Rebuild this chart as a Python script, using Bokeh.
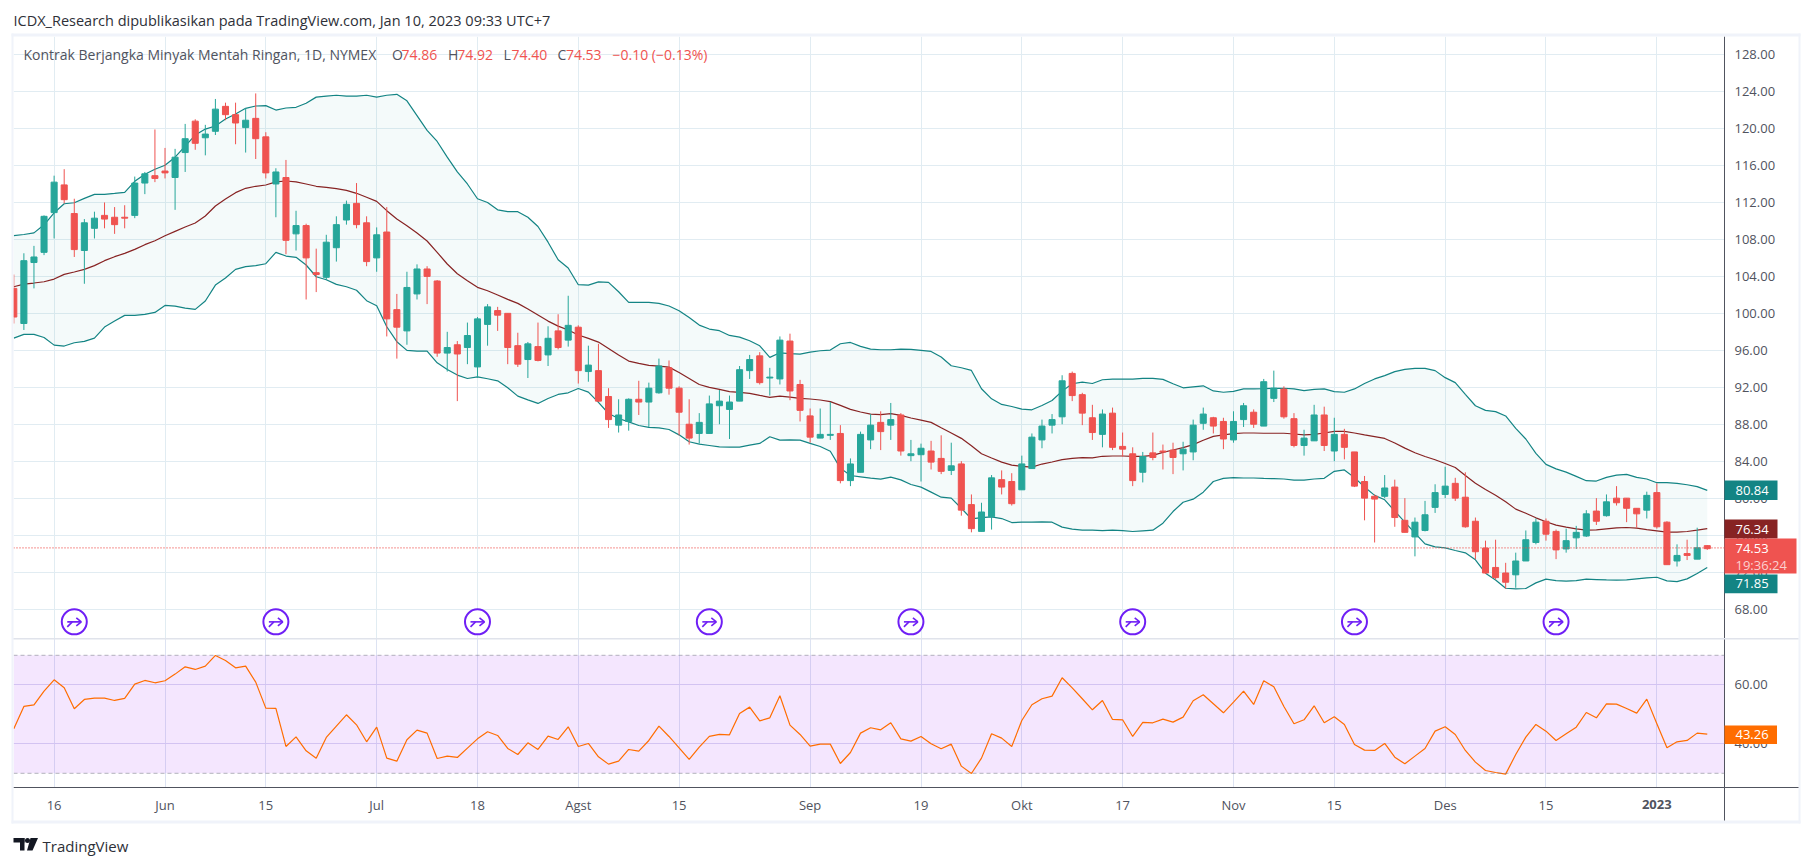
from bokeh.plotting import figure
from bokeh.layouts import column
from bokeh.core.properties import value
from bokeh.models import BoxAnnotation, ColumnDataSource, FixedTicker, NumeralTickFormatter, Range1d, Span
from bokeh.embed import file_html
from bokeh.resources import INLINE

opens = [102.7,98.9,105.5,106.6,110.9,113.9,110.8,106.8,109.2,110.6,
110.4,110.4,110.6,114.1,114.9,115.4,114.7,117.4,120.8,119.0,
119.7,122.4,121.5,120.1,121.1,119.1,114.0,114.7,108.6,109.5,
104.4,103.9,107.1,110.1,111.9,109.8,106.0,108.8,100.4,98.1,
102.1,104.8,103.5,95.7,96.6,96.3,94.2,98.8,100.3,100.0,
96.5,95.0,96.4,95.5,98.1,97.1,98.5,93.7,93.8,91.0,
87.9,88.3,90.7,90.4,91.4,94.1,91.9,88.0,87.0,87.0,
90.0,89.6,90.5,93.8,95.4,93.0,92.9,97.0,92.3,88.9,
86.5,86.8,87.0,81.9,82.8,86.3,88.2,87.9,89.0,84.6,
84.7,85.1,84.3,83.0,83.7,79.3,76.4,78.0,82.0,81.8,
80.9,83.2,86.3,87.9,88.8,93.5,91.2,88.7,86.9,89.2,
85.6,84.8,82.8,84.9,85.1,85.2,84.8,85.0,88.1,88.7,
88.3,86.3,88.5,89.3,87.8,90.8,91.8,88.6,85.7,86.2,
89.0,85.1,86.9,85.0,81.8,80.2,80.2,81.2,77.6,75.8,
76.5,79.0,80.4,81.6,80.1,77.5,74.6,72.5,71.9,71.7,
73.2,75.2,77.5,76.4,74.5,75.7,75.9,78.6,78.1,80.0,
80.0,78.9,78.7,80.6,77.4,73.2,74.0,73.4,74.86]
highs = [104.2,106.5,107.3,110.6,114.9,115.6,112.4,110.2,111.0,112.0,
111.5,111.7,114.8,115.3,119.9,117.9,117.8,120.5,121.0,120.4,
123.2,122.8,122.8,122.2,123.8,119.6,115.7,116.6,111.1,109.7,
107.0,108.5,110.5,112.2,114.1,110.5,109.3,111.5,102.1,104.5,
105.3,105.1,103.6,98.0,97.0,99.0,99.6,101.0,100.7,100.0,
97.9,96.9,99.0,98.6,99.9,101.9,98.7,96.5,96.7,91.9,
90.7,90.8,92.7,92.5,95.1,94.9,92.1,90.7,89.2,91.1,
91.7,91.1,94.3,95.5,95.8,94.1,97.5,97.8,92.8,89.7,
89.7,90.4,87.9,84.3,87.2,89.1,89.4,90.3,89.2,86.3,
85.9,86.2,86.8,86.0,84.0,80.4,79.5,82.5,83.0,82.7,
84.6,87.0,88.5,89.1,93.3,93.7,91.4,90.1,89.6,89.8,
87.1,85.5,85.0,87.1,85.8,86.0,86.1,88.5,89.8,88.8,
88.7,89.4,90.3,89.6,92.9,93.8,92.1,89.2,87.4,90.1,
89.9,88.7,87.5,85.0,82.4,80.4,82.5,82.0,80.0,77.9,
79.7,81.5,83.4,82.2,82.8,77.9,75.4,75.5,73.0,74.1,
76.5,77.8,77.8,76.6,76.7,77.0,78.7,80.0,80.4,81.3,
80.0,78.9,80.7,81.6,77.5,75.0,75.5,76.8,74.92]
lows = [98.9,98.2,102.7,106.3,108.1,111.9,106.1,103.2,108.1,109.2,
108.6,109.2,110.3,112.9,114.2,114.6,111.2,115.3,117.7,117.1,
119.3,120.9,118.3,117.4,116.7,114.6,110.4,106.4,106.8,101.5,
102.3,103.6,105.6,109.6,109.2,105.1,104.5,97.5,95.1,96.6,
101.5,101.0,95.3,93.7,90.5,94.5,93.0,96.5,98.1,94.5,
94.2,93.0,94.8,94.3,96.1,96.4,92.4,92.6,90.4,87.6,
87.1,87.3,89.0,87.7,91.3,91.2,86.8,85.8,85.9,87.0,
88.0,86.4,90.5,92.9,92.3,91.1,92.3,90.6,88.3,86.0,
86.5,86.3,81.6,81.3,82.8,85.3,85.2,86.3,84.6,84.0,
81.8,83.1,82.6,82.5,78.1,76.3,76.4,76.6,80.4,79.2,
80.9,83.2,85.4,87.0,88.0,90.5,87.9,86.3,85.5,85.2,
84.5,81.3,81.7,84.1,83.1,82.6,83.0,84.1,87.4,87.0,
85.3,86.0,87.7,87.6,87.8,90.4,88.6,85.5,84.6,86.2,
85.1,84.0,84.2,81.2,77.6,75.2,80.0,76.9,76.3,73.7,
76.4,78.4,80.0,79.7,76.8,73.4,71.8,71.2,70.2,70.3,
73.2,75.0,75.4,73.4,74.1,74.5,75.8,77.1,78.0,79.2,
77.4,76.8,77.8,76.7,72.8,72.6,73.3,73.4,74.40]
closes = [99.6,105.7,106.1,110.5,114.2,112.3,106.9,109.8,110.3,110.2,
109.6,110.3,114.1,115.1,114.6,115.2,116.9,118.9,118.4,119.4,
122.1,121.5,120.6,120.9,118.9,115.2,115.3,107.9,109.5,106.0,
104.2,107.7,109.6,111.8,109.6,105.6,108.5,99.4,98.5,102.8,
104.8,104.0,95.7,96.3,95.6,97.6,99.4,100.7,99.8,96.3,
94.5,96.7,94.9,97.3,96.3,98.7,93.8,94.4,90.5,88.5,
89.0,90.7,90.4,91.9,94.3,91.9,89.3,86.5,88.2,90.2,
90.5,90.4,93.9,95.0,92.5,93.1,97.1,91.6,89.5,86.6,
86.9,86.9,81.9,83.7,86.9,87.9,87.2,88.5,85.1,84.8,
85.4,83.9,82.9,83.5,78.7,76.7,78.5,82.2,81.2,79.4,
83.7,86.6,87.8,88.5,92.7,91.1,89.2,87.1,89.1,85.5,
85.3,81.9,84.5,84.4,85.0,84.4,85.3,87.9,89.1,87.8,
86.4,88.3,90.0,88.0,92.6,91.9,88.8,85.7,86.5,89.0,
85.7,86.9,85.5,81.3,80.0,79.9,81.1,77.9,76.3,77.4,
78.2,80.6,81.3,80.0,76.9,74.2,71.9,71.4,70.9,73.2,
75.5,77.4,76.1,74.4,75.4,76.3,78.3,77.5,79.6,79.5,
78.9,78.3,80.3,76.9,72.8,73.8,73.8,74.63,74.53]
bb_upper = [108.42,108.53,108.71,109.58,110.88,111.86,111.97,112.44,112.88,112.88,
112.98,113.09,114.29,115.05,115.59,116.03,116.9,118.09,119.29,119.94,
120.27,121.03,121.57,122.19,122.44,122.48,122.0,122.22,122.3,122.73,
123.4,123.5,123.6,123.5,123.5,123.6,123.4,123.6,123.7,123.0,
121.4,119.8,118.6,116.9,115.3,114.0,112.4,112.0,111.2,111.0,
111.0,110.4,109.4,107.7,105.8,104.9,103.1,103.06,103.4,103.35,
102.34,101.18,101.2,101.18,101.08,100.79,100.28,99.55,98.73,98.3,
98.12,97.61,97.43,97.03,96.49,95.23,95.73,95.63,95.59,95.81,
95.95,96.02,96.71,96.85,96.42,96.13,96.06,96.06,96.13,96.1,
95.99,95.88,95.27,94.33,94.11,93.82,91.84,90.75,90.14,89.92,
89.63,89.56,90.03,90.57,91.58,92.38,92.56,92.41,92.81,92.88,
92.88,92.88,92.96,92.96,92.85,92.38,91.94,92.05,92.16,91.6,
91.46,91.56,91.82,91.82,91.85,91.89,91.89,91.82,91.64,91.78,
91.82,91.53,91.46,91.82,92.4,92.9,93.26,93.69,93.94,94.05,
94.05,93.8,93.04,92.5,91.24,90.0,89.5,89.36,88.89,87.55,
86.4,84.85,83.65,83.17,82.82,82.36,81.89,81.85,82.25,82.5,
82.57,82.25,82.07,81.67,81.67,81.6,81.45,81.24,80.84]
bb_basis = [102.88,103.17,103.28,103.42,103.71,104.22,104.47,104.76,105.16,105.7,
106.13,106.49,106.92,107.43,107.86,108.4,108.87,109.34,109.78,110.53,
111.62,112.37,113.06,113.53,113.75,113.89,114.22,114.32,114.22,114.0,
113.75,113.64,113.49,113.31,112.99,112.56,112.12,111.11,110.21,109.49,
108.69,107.83,106.6,105.34,104.29,103.53,102.81,102.45,101.98,101.51,
101.08,100.46,99.81,99.16,98.62,98.19,97.65,97.29,96.89,96.2,
95.48,94.83,94.58,94.36,94.29,94.18,93.6,92.95,92.3,91.99,
91.77,91.52,91.45,91.34,91.12,90.91,91.05,90.94,90.8,90.73,
90.62,90.44,90.04,89.61,89.32,89.1,89.03,89.14,88.96,88.67,
88.45,88.2,87.62,87.05,86.47,85.67,84.81,84.34,83.9,83.58,
83.44,83.36,83.69,83.91,84.16,84.31,84.38,84.35,84.53,84.56,
84.56,84.53,84.53,84.63,84.96,85.21,85.46,85.79,86.26,86.69,
86.84,86.98,87.05,87.05,87.02,87.02,87.02,86.94,86.84,86.91,
87.05,87.23,87.23,87.05,86.84,86.65,86.46,85.96,85.41,84.91,
84.51,84.15,83.75,83.32,82.45,81.62,80.94,80.32,79.6,78.81,
78.37,77.87,77.44,77.08,76.86,76.68,76.53,76.57,76.68,76.79,
76.82,76.75,76.6,76.46,76.32,76.32,76.39,76.53,76.71]
bb_lower = [97.32,97.72,97.72,97.39,96.56,96.46,96.82,96.96,97.32,98.51,
99.16,99.78,99.78,99.88,100.1,100.86,100.79,100.57,100.43,101.33,
103.06,103.82,104.76,105.05,105.16,105.37,106.6,106.2,106.06,105.23,
103.96,103.64,103.13,102.88,102.5,101.37,100.82,98.55,96.93,95.99,
95.91,95.91,94.65,93.93,93.32,92.95,93.13,92.92,92.7,91.94,
91.04,90.64,90.25,90.79,91.22,91.4,91.87,91.47,90.36,89.16,
88.62,88.26,87.86,87.65,87.61,87.43,86.85,86.1,85.84,85.7,
85.55,85.52,85.52,85.73,85.92,86.64,86.28,86.31,86.28,85.92,
85.59,85.08,83.25,82.45,82.31,82.16,82.05,82.27,81.98,81.48,
81.19,80.65,80.1,80.0,78.91,77.76,77.9,77.97,77.79,77.36,
77.4,77.4,77.43,77.4,76.86,76.64,76.53,76.53,76.49,76.53,
76.49,76.39,76.46,76.53,77.29,78.55,79.56,79.89,80.65,81.8,
82.14,82.22,82.18,82.18,82.14,82.11,82.07,81.96,81.96,82.07,
82.14,82.9,83.05,82.22,81.2,80.3,79.82,78.59,77.4,76.21,
75.05,74.73,74.62,74.33,74.08,73.32,71.88,71.15,70.25,70.18,
70.22,70.83,71.23,71.08,71.01,71.08,71.23,71.19,71.15,71.12,
71.15,71.26,71.37,71.44,71.05,70.97,71.26,71.84,72.49]
rsi = [45.09,52.66,53.22,57.85,61.69,58.98,51.87,55.03,55.48,55.48,
54.69,55.37,60.23,61.47,60.68,61.36,63.62,66.1,65.2,66.33,
69.95,68.25,65.76,66.33,60.91,52.09,51.98,39.1,42.37,37.63,
35.14,42.15,45.99,49.83,46.44,40.68,45.65,35.14,34.12,41.36,
44.63,43.62,35.03,35.82,35.37,38.53,41.69,44.07,42.83,38.42,
36.38,40.34,38.08,42.6,41.47,45.76,39.1,40.11,35.59,33.11,
34.12,38.08,37.51,41.13,45.99,42.49,38.64,34.69,38.87,42.49,
43.17,43.05,50.28,52.43,47.78,48.81,56.27,46.33,43.17,39.21,
39.89,39.89,33.33,37.06,43.62,45.43,44.75,47.12,41.69,40.9,
42.49,39.99,38.31,39.89,32.43,29.94,35.14,43.39,41.92,39.1,
47.91,53.22,55.26,56.16,62.37,58.98,55.26,51.53,54.69,48.25,
48.14,42.49,47.23,47.12,48.36,47.35,49.04,54.58,56.61,53.56,
50.51,54.12,57.85,53.33,61.36,59.32,52.66,46.78,48.14,52.88,
47.12,49.15,46.55,39.77,37.85,37.74,40.11,35.48,33.22,35.82,
38.42,44.29,45.76,43.17,37.74,33.79,30.96,30.28,29.72,36.38,
42.26,46.55,44.29,41.13,43.39,45.65,50.62,48.81,53.56,53.45,
51.98,50.39,55.14,46.78,38.64,40.68,41.13,43.62,43.28]

date_ticks = [4, 15, 25, 36, 46, 56, 66, 79, 90, 100, 110, 121, 131, 142, 152, 163]
date_labels = ["16", "Jun", "15", "Jul", "18", "Agst", "15", "Sep", "19", "Okt", "17", "Nov", "15", "Des", "15", "2023"]
price_ticks = [68, 72, 76, 80, 84, 88, 92, 96, 100, 104, 108, 112, 116, 120, 124, 128]
rsi_ticks = [40, 60]
event_bars = [6, 26, 46, 69, 89, 111, 133, 153]
last_price = 74.53

UP, DOWN = "#26A69A", "#EF5350"
BAND, BASIS, RSI_C = "#138484", "#872323", "#FF6D00"
GRID, TXT, AXIS, BORDER = "#E1ECF2", "#50535E", "#50535E", "#F0F3FA"
ICON = "#6F1FF5"
FONT = "Open Sans"

WIDTH = 1805
x_range = Range1d(-0.03, 169.71)

p = figure(width=WIDTH, height=638, x_range=x_range, y_range=Range1d(64.81, 129.96),
           y_axis_location="right", toolbar_location=None, output_backend="svg",
           min_border_left=13, min_border_right=81, min_border_top=36, min_border_bottom=0,
           outline_line_color=None)
r = figure(width=WIDTH, height=220, x_range=x_range, y_range=Range1d(25.19, 75.69),
           y_axis_location="right", toolbar_location=None, output_backend="svg",
           min_border_left=13, min_border_right=81, min_border_top=0, min_border_bottom=71,
           outline_line_color=None)

for f, ticks in ((p, price_ticks), (r, rsi_ticks)):
    f.xgrid.ticker = FixedTicker(ticks=date_ticks)
    f.ygrid.ticker = FixedTicker(ticks=ticks)
    f.xgrid.grid_line_color = GRID
    f.ygrid.grid_line_color = GRID
    f.yaxis.ticker = FixedTicker(ticks=ticks)
    f.yaxis.formatter = NumeralTickFormatter(format="0.00")
    f.yaxis.axis_line_color = AXIS
    f.yaxis.major_tick_line_color = None
    f.yaxis.minor_tick_line_color = None
    f.yaxis.major_label_text_color = TXT
    f.yaxis.major_label_text_font = FONT
    f.yaxis.major_label_text_font_size = "13px"
    f.yaxis.major_label_standoff = 4

p.xaxis.visible = False
r.ygrid.grid_line_color = "#DAD8F2"
r.xgrid.grid_line_color = "#DDE3F2"
r.xaxis.ticker = FixedTicker(ticks=date_ticks)
r.xaxis.major_label_overrides = {t: ("" if l == "2023" else l) for t, l in zip(date_ticks, date_labels)}
r.xaxis.axis_line_color = AXIS
r.xaxis.major_tick_line_color = None
r.xaxis.minor_tick_line_color = None
r.xaxis.major_label_text_color = TXT
r.xaxis.major_label_text_font = FONT
r.xaxis.major_label_text_font_size = "13px"
r.xaxis.major_label_standoff = 2

# Bollinger bands
xs = list(range(len(closes)))
band = ColumnDataSource(dict(x=xs, upper=bb_upper, basis=bb_basis, lower=bb_lower))
p.varea(x="x", y1="upper", y2="lower", source=band, fill_color=UP, fill_alpha=0.05)
p.line(x="x", y="upper", source=band, line_color=BAND, line_width=1.2)
p.line(x="x", y="lower", source=band, line_color=BAND, line_width=1.2)
p.line(x="x", y="basis", source=band, line_color=BASIS, line_width=1.2)

# Last price
p.add_layout(Span(location=last_price + 0.08, dimension="width", line_color=DOWN, line_width=1.3, line_dash="1 2"))

# Candles
colors = [UP if c >= o else DOWN for o, c in zip(opens, closes)]
src = ColumnDataSource(dict(x=xs, o=opens, h=highs, l=lows, c=closes, color=colors))
p.segment(x0="x", x1="x", y0="l", y1="h", source=src, line_color="color", line_width=1)
p.vbar(x="x", width=0.6, top="o", bottom="c", source=src, fill_color="color", line_color="color", line_width=1)

# Event icons
PX, PY = 10.08, 9.24          # pixels per bar / per price unit
ICON_Y = 66.61
icons = ColumnDataSource(dict(x=event_bars, y=[ICON_Y] * len(event_bars)))
p.scatter(x="x", y="y", source=icons, marker="circle", size=25, fill_color="white", line_color=ICON, line_width=2)
for dx0, dy0, dx1, dy1 in ((-7, 0, 7, 0), (2, 4, 7, 0), (2, -4, 7, 0), (-7, -5, -2, 0)):
    p.segment(x0=[b + dx0 / PX for b in event_bars], x1=[b + dx1 / PX for b in event_bars],
              y0=[ICON_Y + dy0 / PY] * len(event_bars), y1=[ICON_Y + dy1 / PY] * len(event_bars),
              line_color=ICON, line_width=1.6)

# RSI pane
r.add_layout(BoxAnnotation(bottom=30, top=70, fill_color="#9B1CF6", fill_alpha=0.11, line_color=None, level="underlay"))
for lv in (70, 30):
    r.add_layout(Span(location=lv, dimension="width", line_color="#787B86", line_alpha=0.55, line_width=1, line_dash="4 3"))
r.line(x=xs, y=rsi, line_color=RSI_C, line_width=1.2)

# Transparent page-sized overlay for everything drawn outside the chart frames
o = figure(width=WIDTH, height=858, x_range=Range1d(0, 1805), y_range=Range1d(858, 0),
           toolbar_location=None, output_backend="svg", min_border=0, outline_line_color=None,
           background_fill_color=None, border_fill_color=None, margin=(-858, 0, 0, 0))
o.axis.visible = False
o.grid.visible = False


def strip(l, ri, t, b, color):
    o.quad(left=[l], right=[ri], top=[t], bottom=[b], fill_color=color, line_color=None)


def text(x, y, s, color=TXT, size="13px", align="left", style="normal"):
    o.text(x=[x], y=[y], text=[s], text_color=color, text_font=value(FONT), text_font_size=size,
           text_align=align, text_baseline="middle", text_font_style=style)


# Panel borders
strip(11, 1800, 33, 36, BORDER)
strip(11, 13, 33, 823, BORDER)
strip(1798, 1800, 33, 823, BORDER)
strip(11, 1800, 820, 823, BORDER)
strip(13, 1798, 637.5, 639, "#E0E3EB")
strip(1724, 1798, 786.5, 787.5, AXIS)
strip(1723.5, 1724.5, 787, 820, AXIS)

# Header and legend
text(13, 20, "ICDX_Research dipublikasikan pada TradingView.com, Jan 10, 2023 09:33 UTC+7", color="#2E3038", size="14.5px")
text(23, 54, "Kontrak Berjangka Minyak Mentah Ringan, 1D, NYMEX", size="14px")
for lx, vx, lab, val in ((391.5, 401, "O", "74.86"), (447.6, 456.7, "H", "74.92"), (503, 511, "L", "74.40"), (557, 565.4, "C", "74.53")):
    text(lx, 54, lab, size="14px")
    text(vx, 54, val, color=DOWN, size="14px")
text(612, 54, "\u22120.10 (\u22120.13%)", color=DOWN, size="14px")

# Price chips
for top, bot, color, val in ((480, 499.5, BAND, "80.84"), (519, 538, BASIS, "76.34"), (574, 592.7, BAND, "71.85")):
    strip(1724, 1777, top, bot, color)
    text(1735, (top + bot) / 2, val, color="white")
strip(1724, 1796, 538, 573, DOWN)
text(1735, 548, "74.53", color="white")
text(1735, 564, "19:36:24", color="#FBD0CF")

# RSI chip
strip(1724, 1776.5, 725, 743.5, RSI_C)
text(1735, 734, "43.26", color="white")

# Bold year tick label, logo and brand name
text(1656.3, 804, "2023", style="bold", align="center")
logo = "#131722"
strip(13, 24, 837.5, 842, logo)
strip(19.5, 24, 837.5, 850, logo)
o.patch(x=[30, 37.5, 32, 26.5], y=[837.5, 837.5, 850, 850], fill_color=logo, line_color=None)
o.scatter(x=[27], y=[840], marker="circle", size=5, fill_color=logo, line_color=None)
text(42, 845, "TradingView", color="#2E3038", size="15px")

page = column(column(p, r, spacing=0), o, spacing=0)
open("out.html", "w").write(file_html(page, INLINE))
